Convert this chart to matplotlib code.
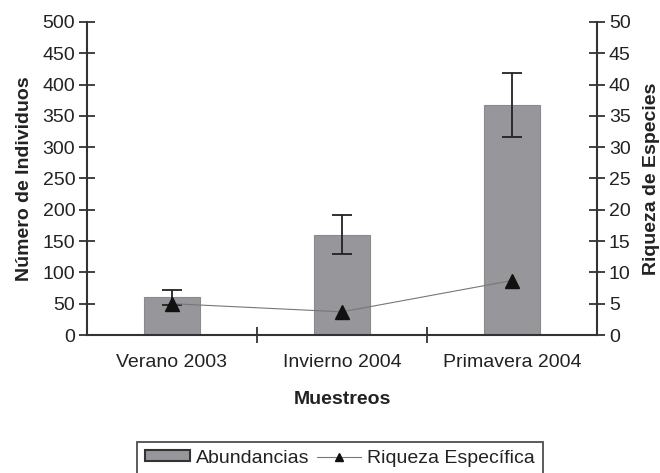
import matplotlib
matplotlib.use("Agg")
import matplotlib.pyplot as plt
import numpy as np

plt.rcParams['font.family'] = ['Liberation Sans', 'DejaVu Sans']

categories = ["Verano 2003", "Invierno 2004", "Primavera 2004"]
abundancias = [60, 160, 367]
abundancias_err = [12, 31, 51]
riqueza = [5.0, 3.7, 8.7]

axis_color = '#333333'
text_color = '#222222'
bar_color = '#97979b'
fs = 14

fig = plt.figure(figsize=(6.6, 4.73), dpi=100)
ax = fig.add_axes([87/660, 1-335/473, 510/660, 313/473])
x = np.arange(len(categories))

bars = ax.bar(x, abundancias, width=1/3, color=bar_color, edgecolor='#8a8a8e',
              linewidth=0.8, zorder=2, label='Abundancias')
ax.errorbar(x, abundancias, yerr=abundancias_err, fmt='none', ecolor='#222222',
            elinewidth=1.3, capsize=7, capthick=1.3, zorder=3)

ax.set_xlim(-0.5, len(categories) - 0.5)
ax.set_ylim(0, 500)
ax.set_yticks(np.arange(0, 501, 50))
ax.set_xticks(x)
ax.set_xticklabels(categories, fontsize=fs, color=text_color)
ax.set_xticks(np.arange(0.5, len(categories) - 0.5, 1), minor=True)
ax.tick_params(axis='x', which='major', length=0, pad=14)
ax.tick_params(axis='x', which='minor', direction='inout', length=11, width=1.3, color=axis_color)
ax.tick_params(axis='y', direction='inout', length=11, width=1.3, color=axis_color,
               labelsize=fs, labelcolor=text_color, pad=3)
ax.spines['top'].set_visible(False)
ax.spines['right'].set_visible(False)
for s in ('left', 'bottom'):
    ax.spines[s].set_color(axis_color)
    ax.spines[s].set_linewidth(1.5)
ax.set_ylabel('Número de Individuos', fontsize=fs, fontweight='bold', color=text_color, labelpad=7)
ax.set_xlabel('Muestreos', fontsize=fs, fontweight='bold', color=text_color, labelpad=14)

ax2 = ax.twinx()
line, = ax2.plot(x, riqueza, color='#777777', linewidth=0.8, marker='^',
                 markersize=10, markerfacecolor='#111111', markeredgecolor='#111111',
                 zorder=4, label='Riqueza Específica')
ax2.set_ylim(0, 50)
ax2.set_yticks(np.arange(0, 51, 5))
ax2.tick_params(axis='y', direction='inout', length=11, width=1.3, color=axis_color,
                labelsize=fs, labelcolor=text_color, pad=3)
ax2.spines['top'].set_visible(False)
ax2.spines['left'].set_visible(False)
ax2.spines['bottom'].set_visible(False)
ax2.spines['right'].set_color(axis_color)
ax2.spines['right'].set_linewidth(1.5)
ax2.set_ylabel('Riqueza de Especies', fontsize=fs, fontweight='bold', color=text_color, labelpad=9)

leg = fig.legend(handles=[bars, line], loc='upper center', bbox_to_anchor=(340/660, 1-442/473),
                 ncol=2, fontsize=fs, frameon=True, fancybox=False, edgecolor='#222222',
                 handlelength=2.3, handleheight=0.5, columnspacing=0.4, handletextpad=0.3,
                 borderpad=0.4, borderaxespad=0, markerscale=0.6)
leg.get_frame().set_linewidth(1.3)
leg.legend_handles[0].set_edgecolor('#333333')
leg.legend_handles[0].set_linewidth(1.5)
for t in leg.get_texts():
    t.set_color(text_color)

fig.savefig('out.png', dpi=100)
